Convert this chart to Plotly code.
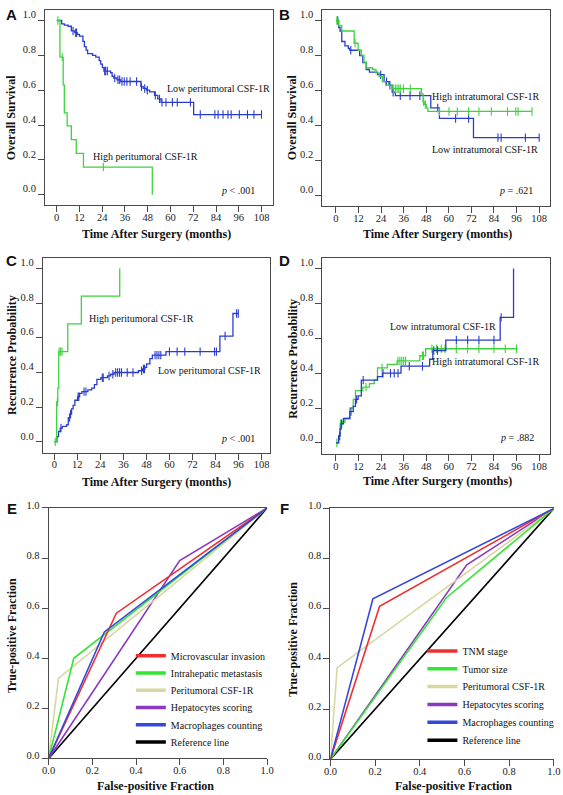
import numpy as np
import plotly.graph_objects as go

# ---------------- data ----------------
month_ticks = [0, 12, 24, 36, 48, 60, 72, 84, 96, 108]
prob_ticks = [0.0, 0.2, 0.4, 0.6, 0.8, 1.0]
frac_ticks = [0.0, 0.2, 0.4, 0.6, 0.8, 1.0]

# Panel A: overall survival by peritumoral CSF-1R
a_low_t = [0, 2.6, 4.0, 6.0, 7.7, 9.5, 10.8, 12.0, 13.8, 14.6, 15.5, 16.3, 18.9, 20.6, 22.4, 23.2,
           24.1, 24.9, 28.4, 29.2, 30.1, 31.8, 33.5, 44.4, 45.6, 47.3, 49.0, 51.6, 53.3, 55.0, 72.2, 108]
a_low_s = [1.0, 0.981, 0.974, 0.967, 0.94, 0.93, 0.92, 0.91, 0.88, 0.85, 0.83, 0.81, 0.80, 0.79, 0.77, 0.75,
           0.73, 0.71, 0.70, 0.68, 0.67, 0.66, 0.65, 0.62, 0.61, 0.60, 0.59, 0.57, 0.55, 0.53, 0.46, 0.46]
a_low_c = [8.6, 10.0, 10.5, 25.3, 25.8, 26.7, 30.6, 32.3, 33.2, 34.4, 35.6, 37.0, 38.7, 42.1, 44.7, 46.4,
           47.8, 52.0, 54.2, 55.5, 57.6, 61.0, 63.6, 70.5, 75.7, 83.4, 85.1, 87.7, 90.3, 92.0, 96.3, 100.6, 104.0, 108]
a_high_t = [0, 1.7, 3.4, 4.0, 5.5, 7.7, 10.3, 14.1, 50.4]
a_high_s = [1.0, 0.79, 0.63, 0.47, 0.395, 0.316, 0.237, 0.158, 0.0]
a_high_c = [0.6, 2.9, 24.6]

# Panel B: overall survival by intratumoral CSF-1R
b_high_t = [0, 1.5, 3.1, 9.7, 11.8, 13.5, 14.9, 16.1, 19.5, 21.3, 23.0, 24.7, 26.4, 29.9, 45.4, 46.3,
            47.2, 48.0, 48.9, 104.2]
b_high_s = [1.0, 0.97, 0.94, 0.87, 0.83, 0.80, 0.76, 0.73, 0.72, 0.70, 0.68, 0.65, 0.63, 0.61, 0.58, 0.535,
            0.52, 0.50, 0.48, 0.48]
b_high_c = [0.5, 10.2, 30.5, 31.6, 32.5, 33.4, 34.2, 35.9, 39.5, 46.6, 47.5, 55.0, 60.1, 64.5, 70.5, 76.0,
            82.6, 91.2, 95.6, 96.8, 104.2]
b_low_t = [0, 1.4, 2.2, 3.1, 4.8, 6.6, 7.4, 12.6, 14.3, 16.1, 17.8, 22.1, 25.6, 28.2, 29.9, 31.6, 50.4,
           55.0, 73.1, 108]
b_low_s = [1.0, 0.96, 0.94, 0.88, 0.855, 0.84, 0.83, 0.80, 0.76, 0.72, 0.705, 0.69, 0.65, 0.63, 0.59, 0.57,
           0.50, 0.44, 0.33, 0.33]
b_low_c = [1.0, 7.9, 23.8, 26.9, 28.7, 30.4, 34.2, 39.4, 44.6, 54.1, 63.6, 70.5, 86.1, 87.8, 100.7, 108]

# Panel C: recurrence by peritumoral CSF-1R
c_high_t = [0, 1.2, 1.8, 2.3, 7.0, 14.1, 34.1]
c_high_r = [0.0, 0.23, 0.31, 0.52, 0.68, 0.84, 1.0]
c_high_c = [0.5, 1.6, 2.5, 3.3, 4.0]
c_low_t = [0, 1.4, 2.2, 3.1, 4.2, 6.5, 7.3, 8.2, 9.0, 9.8, 10.7, 12.1, 13.2, 14.4, 17.5, 19.5, 20.9, 22.2,
           24.3, 27.7, 29.4, 31.1, 43.8, 46.0, 47.2, 48.1, 49.8, 51.1, 58.2, 86.3, 93.1, 95.9]
c_low_r = [0.0, 0.03, 0.06, 0.08, 0.09, 0.10, 0.14, 0.16, 0.19, 0.21, 0.24, 0.26, 0.28, 0.29, 0.30, 0.31,
           0.33, 0.36, 0.37, 0.38, 0.39, 0.40, 0.41, 0.42, 0.43, 0.45, 0.48, 0.50, 0.52, 0.61, 0.74, 0.74]
c_low_c = [3.5, 8.0, 8.5, 12.4, 12.8, 15.5, 16.5, 25.0, 25.5, 28.5, 30.5, 32.0, 33.0, 34.0, 35.0, 38.0,
           41.0, 45.5, 46.5, 47.0, 52.5, 53.5, 54.5, 55.5, 60.0, 64.0, 68.0, 76.0, 83.5, 84.5, 89.0, 95.0, 95.9]

# Panel D: recurrence by intratumoral CSF-1R
d_low_t = [0, 1.4, 2.2, 2.8, 4.0, 7.4, 9.2, 10.4, 11.8, 13.5, 22.1, 24.7, 34.6, 49.8, 51.5, 58.4, 87.3, 94.4]
d_low_r = [0.0, 0.04, 0.08, 0.11, 0.14, 0.18, 0.21, 0.25, 0.27, 0.36, 0.38, 0.40, 0.44, 0.48, 0.53, 0.59,
           0.72, 1.0]
d_low_c = [2.0, 3.0, 8.0, 11.0, 14.5, 25.0, 29.0, 31.0, 33.0, 39.0, 46.0, 52.0, 54.0, 64.0, 70.0, 76.0,
           84.0, 87.8]
d_high_t = [0, 1.5, 2.2, 3.5, 4.8, 7.4, 9.2, 10.4, 14.3, 17.8, 20.4, 22.1, 27.3, 32.5, 44.6, 47.7, 96.4]
d_high_r = [0.0, 0.04, 0.11, 0.12, 0.14, 0.20, 0.25, 0.30, 0.32, 0.34, 0.36, 0.43, 0.45, 0.47, 0.50, 0.54,
            0.54]
d_high_c = [0.5, 2.5, 3.0, 16.0, 24.5, 33.0, 34.0, 35.0, 36.0, 37.0, 46.0, 46.5, 51.0, 53.5, 56.0, 58.0,
            64.0, 70.0, 76.0, 84.0, 90.0, 96.0]

# Panel E: ROC curves
e_names = ["Microvascular invasion", "Intrahepatic metastasis", "Peritumoral CSF-1R",
           "Hepatocytes scoring", "Macrophages counting", "Reference line"]
e_fpr = [[0, 0.31, 1], [0, 0.115, 1], [0, 0.045, 1], [0, 0.60, 1], [0, 0.255, 1], [0, 1]]
e_tpr = [[0, 0.58, 1], [0, 0.40, 1], [0, 0.32, 1], [0, 0.79, 1], [0, 0.505, 1], [0, 1]]

# Panel F: ROC curves
f_names = ["TNM stage", "Tumor size", "Peritumoral CSF-1R",
           "Hepatocytes scoring", "Macrophages counting", "Reference line"]
f_fpr = [[0, 0.22, 1], [0, 0.52, 1], [0, 0.03, 1], [0, 0.61, 1], [0, 0.19, 1], [0, 1]]
f_tpr = [[0, 0.61, 1], [0, 0.645, 1], [0, 0.365, 1], [0, 0.775, 1], [0, 0.64, 1], [0, 1]]

# ---------------- styles ----------------
W, H = 563, 795
SERIF = "Liberation Serif"
SANS = "Liberation Sans"
KM_GREEN = "#3ed23e"
KM_BLUE = "#2a3ccf"
ROC_COLORS = ["#ef2f2f", "#35e535", "#d8d7a2", "#8a38c2", "#3448de", "#000000"]
AX_COLOR = "#4a4a4a"


def px(x):
    return x / W


def py(y):
    return 1 - y / H


fig = go.Figure()

# panel geometry: pixel frame and axis ranges
panels = [
    dict(n="", fx=(39, 273), fy=(2, 200), xr=(-6.17, 114.17), yr=(-0.0606, 1.0606)),
    dict(n="2", fx=(323.3, 557.3), fy=(2, 200.7), xr=(-7.26, 114.0), yr=(-0.0603, 1.0603)),
    dict(n="3", fx=(36.7, 269.3), fy=(253.3, 451), xr=(-6.0, 112.2), yr=(-0.0625, 1.0608)),
    dict(n="4", fx=(323.3, 556.7), fy=(254, 452.7), xr=(-7.26, 113.7), yr=(-0.066, 1.0577)),
    dict(n="5", fx=(42.7, 266.7), fy=(507, 761), xr=(0, 1), yr=(0, 1)),
    dict(n="6", fx=(331.7, 560.8), fy=(507.5, 761.7), xr=(0, 1), yr=(0, 1)),
]

tickfont = dict(family=SERIF, size=10.5, color="#222")
layout_axes = {}
for i, p in enumerate(panels):
    roc = i >= 4
    xa = dict(domain=[px(p["fx"][0]), px(p["fx"][1])], range=list(p["xr"]),
              showgrid=False, zeroline=False, showline=True, linecolor=AX_COLOR, linewidth=1,
              ticks="outside", ticklen=6, tickwidth=1, tickcolor=AX_COLOR,
              tickfont=tickfont, anchor="y" + p["n"], fixedrange=True, ticklabelstandoff=-4)
    ya = dict(domain=[py(p["fy"][1]), py(p["fy"][0])], range=list(p["yr"]),
              showgrid=False, zeroline=False, showline=True, linecolor=AX_COLOR, linewidth=1,
              ticks="outside", ticklen=6, tickwidth=1, tickcolor=AX_COLOR,
              tickfont=tickfont, anchor="x" + p["n"], fixedrange=True)
    if roc:
        xa.update(tickvals=frac_ticks, ticktext=[f"{v:.1f}" for v in frac_ticks], mirror=True)
        ya.update(tickvals=frac_ticks, ticktext=[f"{v:.1f}" for v in frac_ticks], mirror=False,
                  ticklabelshift=-3)
    else:
        xa.update(tickvals=month_ticks, mirror=True)
        ya.update(tickvals=prob_ticks, ticktext=[f"{v:.1f}" for v in prob_ticks], mirror=True,
                  ticklabelshift=-6)
    layout_axes["xaxis" + p["n"]] = xa
    layout_axes["yaxis" + p["n"]] = ya


def step_val(ts, vs, t):
    ts = np.asarray(ts)
    idx = np.searchsorted(ts, t, side="right") - 1
    return [vs[max(0, k)] for k in idx]


def add_km(ts, vs, cens, color, n):
    fig.add_trace(go.Scatter(x=ts, y=vs, mode="lines", line=dict(color=color, width=1.3, shape="hv"),
                             xaxis="x" + n, yaxis="y" + n, showlegend=False, hoverinfo="skip"))
    fig.add_trace(go.Scatter(x=cens, y=step_val(ts, vs, np.asarray(cens)), mode="markers",
                             marker=dict(symbol="line-ns", size=6, line=dict(color=color, width=1.1)),
                             xaxis="x" + n, yaxis="y" + n, showlegend=False, hoverinfo="skip"))


add_km(a_low_t, a_low_s, a_low_c, KM_BLUE, "")
add_km(a_high_t, a_high_s, a_high_c, KM_GREEN, "")
add_km(b_low_t, b_low_s, b_low_c, KM_BLUE, "2")
add_km(b_high_t, b_high_s, b_high_c, KM_GREEN, "2")
add_km(c_low_t, c_low_r, c_low_c, KM_BLUE, "3")
add_km(c_high_t, c_high_r, c_high_c, KM_GREEN, "3")
add_km(d_high_t, d_high_r, d_high_c, KM_GREEN, "4")
add_km(d_low_t, d_low_r, d_low_c, KM_BLUE, "4")

legend_common = dict(font=dict(family=SERIF, size=10, color="#111"), bgcolor="rgba(0,0,0,0)",
                     borderwidth=0, itemwidth=30, xanchor="left", yanchor="top")
legend_layout = {}
legend_counter = [1]


def add_roc(names, fprs, tprs, n, leg_x, row0, row_gap):
    order = [5, 3, 2, 1, 0, 4]
    for k in order:
        fig.add_trace(go.Scatter(x=fprs[k], y=tprs[k], mode="lines",
                                 line=dict(color=ROC_COLORS[k], width=1.6),
                                 xaxis="x" + n, yaxis="y" + n, showlegend=False, hoverinfo="skip"))
    for k, name in enumerate(names):
        idx = legend_counter[0]
        key = "legend" if idx == 1 else f"legend{idx}"
        legend_counter[0] += 1
        legend_layout[key] = dict(x=px(leg_x), y=py(row0 + k * row_gap - 14.5), **legend_common)
        fig.add_trace(go.Scatter(x=[None], y=[None], mode="lines", name=name,
                                 line=dict(color=ROC_COLORS[k], width=3.5),
                                 xaxis="x" + n, yaxis="y" + n, legend=key, showlegend=True,
                                 hoverinfo="skip"))


add_roc(e_names, e_fpr, e_tpr, "5", 127, 656.7, 17.5)
add_roc(f_names, f_fpr, f_tpr, "6", 426, 651.7, 18.1)

ann = []


def text(x, y, s, size=10, xanchor="center", rot=0, family=SERIF):
    ann.append(dict(x=px(x), y=py(y), xref="paper", yref="paper", text=s, showarrow=False,
                    xanchor=xanchor, yanchor="middle", textangle=rot,
                    font=dict(family=family, size=size, color="#111")))


# curve labels
text(216.7, 81.7, "Low peritumoral CSF-1R")
text(141.7, 150.7, "High peritumoral CSF-1R")
text(256, 185, "<i>p</i> < .001", xanchor="right")
text(490.8, 90, "High intratumoral CSF-1R")
text(490, 143.3, "Low intratumoral CSF-1R")
text(541.7, 185, "<i>p</i> = .621", xanchor="right")
text(138, 315, "High peritumoral CSF-1R")
text(207.5, 367.3, "Low peritumoral CSF-1R")
text(256, 436.7, "<i>p</i> < .001", xanchor="right")
text(446.7, 323.3, "Low intratumoral CSF-1R")
text(490.8, 358.3, "High intratumoral CSF-1R")
text(543, 436, "<i>p</i> = .882", xanchor="right")

# axis titles
for (x, y) in [(153, 229), (441.7, 229.3), (153, 480.7), (441.7, 480)]:
    text(x, y, "<b>Time After Surgery (months)</b>", size=12)
for (x, y) in [(152, 788.5), (458, 788.5)]:
    text(x, y, "<b>False-positive Fraction</b>", size=12)
text(5, 111, "<b>Overall Survival</b>", size=12, rot=-90)
text(293, 111, "<b>Overall Survival</b>", size=12, rot=-90)
text(5, 352, "<b>Recurrence Probability</b>", size=12, rot=-90)
text(293, 356, "<b>Recurrence Probability</b>", size=12, rot=-90)
text(5, 636, "<b>True-positive Fraction</b>", size=12, rot=-90)
text(293, 640, "<b>True-positive Fraction</b>", size=12, rot=-90)

# panel letters
for (x, y, s) in [(5, 7, "A"), (285, 7, "B"), (5, 256, "C"), (285, 256, "D"), (5, 508, "E"), (285, 508, "F")]:
    text(x, y, "<b>" + s + "</b>", size=15, family=SANS)

fig.update_layout(
    width=W, height=H, margin=dict(l=0, r=0, t=0, b=0),
    paper_bgcolor="white", plot_bgcolor="white",
    annotations=ann, showlegend=True,
    **legend_layout,
    **layout_axes,
)

fig.write_html("out.html", config={"displayModeBar": False},
               post_script="document.body.style.margin='0';document.body.style.overflow='hidden';")
